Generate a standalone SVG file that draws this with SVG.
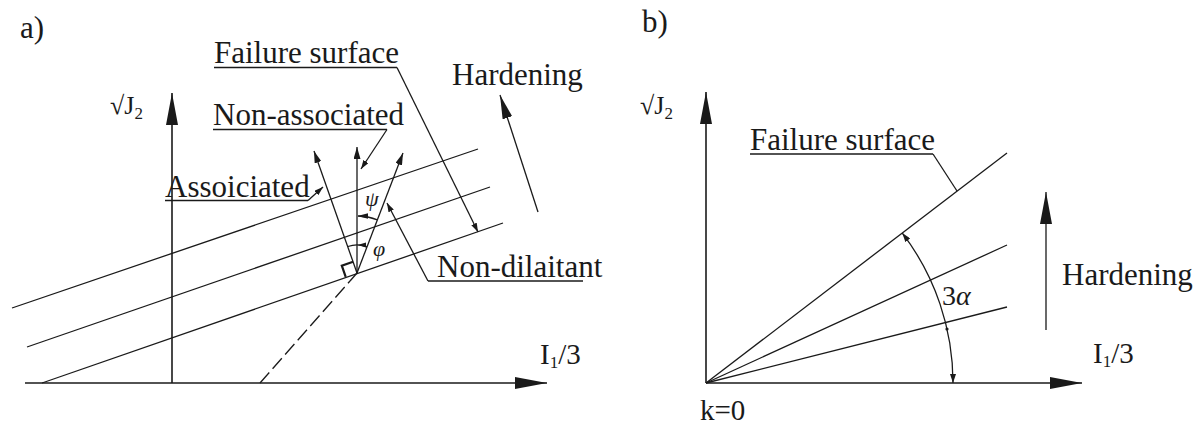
<svg xmlns="http://www.w3.org/2000/svg" width="1201" height="428" viewBox="0 0 1201 428">
<style>
.ln{stroke:#1a1a1a;stroke-width:1.3;fill:none}
.ax{stroke:#1a1a1a;stroke-width:1.6;fill:none}
.ul{stroke:#1a1a1a;stroke-width:1.3}
.dash{stroke-dasharray:14 5}
</style>
<defs>
<marker id="big" markerUnits="userSpaceOnUse" markerWidth="32" markerHeight="12" refX="32" refY="6" orient="auto"><path d="M0,0 L32,6 L0,12 z" fill="#1a1a1a"/></marker>
<marker id="mid" markerUnits="userSpaceOnUse" markerWidth="24" markerHeight="10" refX="24" refY="5" orient="auto"><path d="M0,0 L24,5 L0,10 z" fill="#1a1a1a"/></marker>
<marker id="sm" markerUnits="userSpaceOnUse" markerWidth="12" markerHeight="7" refX="12" refY="3.5" orient="auto"><path d="M0,0 L12,3.5 L0,7 z" fill="#1a1a1a"/></marker>
<marker id="tiny" markerUnits="userSpaceOnUse" markerWidth="9" markerHeight="6" refX="9" refY="3" orient="auto-start-reverse"><path d="M0,0 L9,3 L0,6 z" fill="#1a1a1a"/></marker>
</defs>
<rect width="1201" height="428" fill="#fff"/>

<g id="connectors">
<line class="ax" x1="25" y1="383" x2="547" y2="383" marker-end="url(#big)"/>
<line class="ax" x1="172" y1="383" x2="172" y2="93" marker-end="url(#big)"/>
<line class="ln" x1="12" y1="308" x2="478" y2="149"/>
<line class="ln" x1="27" y1="347" x2="490" y2="187"/>
<line class="ln" x1="42" y1="383" x2="503" y2="223"/>
<line class="ln dash" x1="260" y1="383" x2="350" y2="281"/>
<line class="ln" x1="350" y1="281" x2="357" y2="273"/>
<line class="ln" x1="357" y1="273" x2="314" y2="151" marker-end="url(#sm)"/>
<line class="ln" x1="357" y1="273" x2="357" y2="147" marker-end="url(#sm)"/>
<line class="ln" x1="357" y1="273" x2="403" y2="153" marker-end="url(#sm)"/>
<polyline points="345.7,276.9 341.8,265.6 353.1,261.7" fill="none" stroke="#1a1a1a" stroke-width="2.2"/>
<path class="ln" d="M377.4,219.8 A57,57 0 0,0 358,216" stroke-width="1"/>
<polygon points="357.5,216 368,213.3 368,218.7" fill="#1a1a1a"/>
<path class="ln" d="M347.9,246.5 A28,28 0 0,1 367,246.8" stroke-width="1"/>
<polygon points="357.5,245 366,242.5 366,247.5" fill="#1a1a1a"/>
<line class="ln" x1="397" y1="67.5" x2="478" y2="232" marker-end="url(#tiny)"/>
<line class="ln" x1="387" y1="129.5" x2="361" y2="169" marker-end="url(#tiny)"/>
<line class="ln" x1="308" y1="200.5" x2="323" y2="187" marker-end="url(#tiny)"/>
<line class="ln" x1="428" y1="281" x2="387" y2="203" marker-end="url(#tiny)"/>
<line class="ln" x1="538" y1="212" x2="500" y2="95" marker-end="url(#mid)"/>

<line class="ax" x1="706" y1="383" x2="1082" y2="383" marker-end="url(#big)"/>
<line class="ax" x1="706" y1="383" x2="706" y2="92" marker-end="url(#big)"/>
<line class="ln" x1="706" y1="383" x2="1007" y2="153"/>
<line class="ln" x1="706" y1="383" x2="1007" y2="245"/>
<line class="ln" x1="706" y1="383" x2="1007" y2="307"/>
<path class="ln" d="M953,383 A247,247 0 0,0 902.3,233.1" stroke-width="1.1" marker-start="url(#tiny)" marker-end="url(#tiny)"/>
<circle cx="947" cy="329" r="1.6" fill="#1a1a1a"/>
<line class="ln" x1="933" y1="154" x2="957" y2="191"/>
<line class="ln" x1="1046" y1="330" x2="1046" y2="192" marker-end="url(#big)"/>
</g>

<g font-family="'Liberation Serif', 'Times New Roman', 'DejaVu Serif', serif" fill="#1a1a1a" font-size="31">
<g id="label-a"><text x="20" y="38">a)</text></g>
<g id="failure-a"><text x="214" y="63">Failure surface</text><line class="ul" x1="214" y1="67.5" x2="397" y2="67.5"/></g>
<g id="hardening-a"><text x="452" y="85">Hardening</text></g>
<g id="j2-a"><text x="110" y="114" font-size="26">√J<tspan font-size="17" dy="5">2</tspan></text></g>
<g id="nonassoc"><text x="213" y="125">Non-associated</text><line class="ul" x1="213" y1="129.5" x2="387" y2="129.5"/></g>
<g id="assoc"><text x="165" y="197">Assoiciated</text><line class="ul" x1="165" y1="200.5" x2="308" y2="200.5"/></g>
<g id="nondil"><text x="437" y="277">Non-dilaitant</text><line class="ul" x1="428" y1="281" x2="583" y2="281"/></g>
<g id="i1-a"><text x="540" y="364" font-size="29">I<tspan font-size="17" dy="4">1</tspan><tspan dy="-4">/3</tspan></text></g>
<g id="psi"><text x="365" y="206" font-size="22" font-style="italic">ψ</text></g>
<g id="phi"><text x="373" y="256" font-size="22" font-style="italic">φ</text></g>

<g id="label-b"><text x="642" y="32">b)</text></g>
<g id="j2-b"><text x="640" y="114" font-size="26">√J<tspan font-size="17" dy="5">2</tspan></text></g>
<g id="failure-b"><text x="750" y="150">Failure surface</text><line class="ul" x1="750" y1="154" x2="933" y2="154"/></g>
<g id="alpha"><text x="942" y="305" font-size="28">3<tspan font-style="italic">α</tspan></text></g>
<g id="hardening-b"><text x="1062" y="285">Hardening</text></g>
<g id="i1-b"><text x="1093" y="363" font-size="29">I<tspan font-size="17" dy="4">1</tspan><tspan dy="-4">/3</tspan></text></g>
<g id="k0"><text x="700" y="420" font-size="29">k=0</text></g>
</g>
</svg>
